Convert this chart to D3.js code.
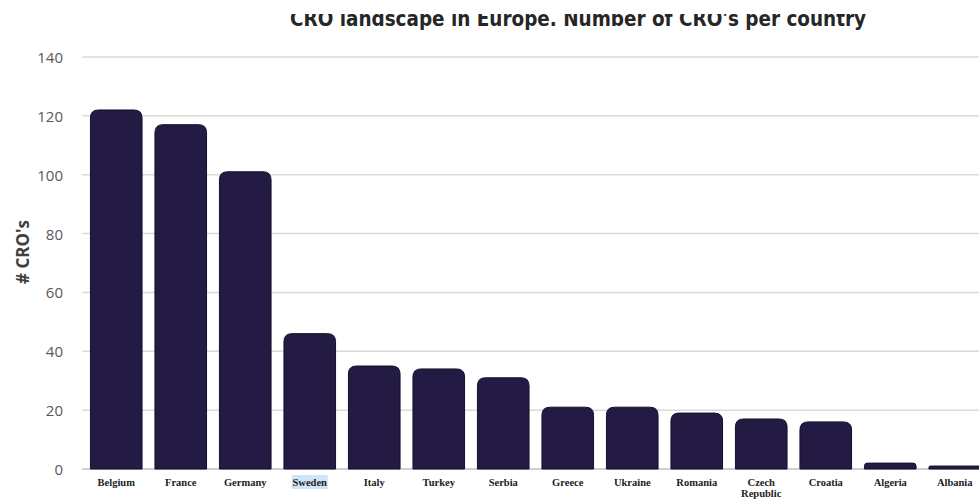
<!DOCTYPE html>
<html>
<head>
<meta charset="utf-8">
<script src="https://cdn.jsdelivr.net/npm/d3@7"></script>
<style>
  body { margin: 0; background: #fff; overflow: hidden; }
  svg { display: block; }
</style>
</head>
<body>
<div id="chart"></div>
<script>
// Countries and number of CRO's
const countries = ["Belgium", "France", "Germany", "Sweden", "Italy", "Turkey", "Serbia",
  "Greece", "Ukraine", "Romania", "Czech Republic", "Croatia", "Algeria", "Albania"];
const croCounts = [122, 117, 101, 46, 35, 34, 31, 21, 21, 19, 17, 16, 2, 1];
const yTicks = [0, 20, 40, 60, 80, 100, 120, 140];

const width = 979, height = 504;
const margin = { top: 57, right: -8, bottom: 35, left: 84 };

const svg = d3.select("#chart").append("svg")
  .attr("width", width)
  .attr("height", height);

// Scales
const x = d3.scaleBand()
  .domain(countries)
  .range([margin.left, width - margin.right])
  .paddingInner(0.2)
  .paddingOuter(0.1);

const y = d3.scaleLinear()
  .domain([0, 140])
  .range([height - margin.bottom, margin.top]);

// Gridlines
svg.append("g")
  .selectAll("line")
  .data(yTicks)
  .enter()
  .append("line")
  .attr("x1", 82)
  .attr("x2", width)
  .attr("y1", d => y(d))
  .attr("y2", d => y(d))
  .style("stroke", d => d === 0 ? "#bfbfbf" : "#dadada")
  .style("stroke-width", 1.5);

// Y tick labels
svg.append("g")
  .selectAll("text")
  .data(yTicks)
  .enter()
  .append("text")
  .attr("x", 63)
  .attr("y", d => y(d))
  .attr("text-anchor", "end")
  .attr("dominant-baseline", "central")
  .style("font-family", "'Open Sans', 'Noto Sans', sans-serif")
  .style("font-size", "15px")
  .style("fill", "#595959")
  .text(d => d);

// Y axis title
svg.append("text")
  .attr("transform", `translate(22,252) rotate(-90)`)
  .attr("text-anchor", "middle")
  .attr("dominant-baseline", "central")
  .style("font-family", "'Open Sans', 'Noto Sans', sans-serif")
  .style("font-weight", "bold")
  .style("font-size", "17px")
  .style("fill", "#404040")
  .text("# CRO's");

// Bars with rounded tops
const barColor = "#241b45";
function barPath(d, i) {
  const x0 = x(countries[i]);
  const w = x.bandwidth();
  const y0 = y(0);
  const y1 = y(d);
  const r = Math.min(8, (y0 - y1) / 2, w / 2);
  return `M${x0},${y0} L${x0},${y1 + r} Q${x0},${y1} ${x0 + r},${y1} ` +
    `L${x0 + w - r},${y1} Q${x0 + w},${y1} ${x0 + w},${y1 + r} L${x0 + w},${y0} Z`;
}

svg.append("g")
  .selectAll("path")
  .data(croCounts)
  .enter()
  .append("path")
  .attr("d", (d, i) => barPath(d, i))
  .style("fill", barColor)
  .style("stroke", "#15102a")
  .style("stroke-width", 1);

// Selection highlight behind Sweden label
const swedenX = x("Sweden") + x.bandwidth() / 2;
svg.append("rect")
  .attr("x", swedenX - 18)
  .attr("y", y(0) + 6)
  .attr("width", 36)
  .attr("height", 14)
  .style("fill", "#cfe4f7");

// X category labels (serif, wrap Czech Republic)
const xLabels = svg.append("g")
  .selectAll("text")
  .data(countries)
  .enter()
  .append("text")
  .attr("x", d => x(d) + x.bandwidth() / 2)
  .attr("y", y(0) + 17)
  .attr("text-anchor", "middle")
  .style("font-family", "'Liberation Serif', 'DejaVu Serif', serif")
  .style("font-weight", "bold")
  .style("font-size", "10.5px")
  .style("fill", "#222");

xLabels.each(function(d) {
  const words = d === "Czech Republic" ? ["Czech", "Republic"] : [d];
  d3.select(this).selectAll("tspan")
    .data(words)
    .enter()
    .append("tspan")
    .attr("x", x(d) + x.bandwidth() / 2)
    .attr("dy", (w, j) => j === 0 ? 0 : 11)
    .text(w => w);
});

// Chart title, cropped at the top of the picture
svg.append("text")
  .attr("x", 578)
  .attr("y", 26)
  .attr("text-anchor", "middle")
  .attr("textLength", 576)
  .attr("lengthAdjust", "spacingAndGlyphs")
  .style("font-family", "'DejaVu Sans Condensed', 'Liberation Sans Narrow', sans-serif")
  .style("font-weight", "bold")
  .style("font-size", "21px")
  .style("fill", "#262626")
  .text("CRO landscape in Europe. Number of CRO's per country");

// White band cropping the top of the title
svg.append("rect")
  .attr("x", 0)
  .attr("y", 0)
  .attr("width", width)
  .attr("height", 14)
  .style("fill", "#fff");
</script>
</body>
</html>
